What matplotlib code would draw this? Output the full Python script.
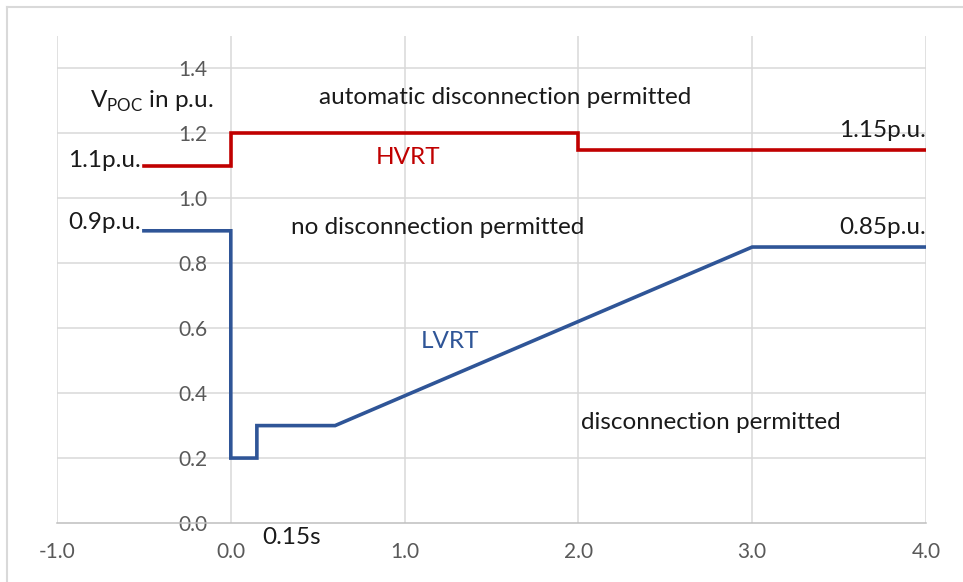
import matplotlib.pyplot as plt
from matplotlib.lines import Line2D

plt.rcParams['font.family'] = ['Lato', 'DejaVu Sans']
plt.rcParams['axes.unicode_minus'] = False

# LVRT / HVRT curves (time in s, voltage in p.u.)
lvrt_t = [-0.5, 0.0, 0.0, 0.15, 0.15, 0.6, 3.0, 4.0]
lvrt_v = [0.9, 0.9, 0.2, 0.2, 0.3, 0.3, 0.85, 0.85]
hvrt_t = [-0.5, 0.0, 0.0, 2.0, 2.0, 4.0]
hvrt_v = [1.1, 1.1, 1.2, 1.2, 1.15, 1.15]

x_ticks = [-1.0, 0.0, 1.0, 2.0, 3.0, 4.0]
y_ticks = [0.0, 0.2, 0.4, 0.6, 0.8, 1.0, 1.2, 1.4]

grid_col = '#d9d9d9'
tick_col = '#595959'
red = '#c00000'
blue = '#2f5597'

fig = plt.figure(figsize=(9.63, 5.82), dpi=100)
W, H = 963, 582
ax = fig.add_axes([57 / W, (H - 523) / H, (926 - 57) / W, (523 - 36) / H])

ax.set_xlim(-1, 4)
ax.set_ylim(0, 1.5)

# gridlines drawn by hand so the vertical ones go up to the top and horizontal stop at 1.4
for x in x_ticks:
    ax.axvline(x, color=grid_col, lw=1.1, zorder=0)
for y in y_ticks[1:]:
    ax.axhline(y, color=grid_col, lw=1.1, zorder=0)

for s in ['top', 'right']:
    ax.spines[s].set_visible(False)
ax.spines['bottom'].set_color('#bfbfbf')
ax.spines['bottom'].set_linewidth(1.1)
ax.spines['left'].set_position(('data', 0))
ax.spines['left'].set_visible(False)

ax.set_xticks(x_ticks)
ax.set_xticklabels([f'{v:.1f}' for v in x_ticks])
ax.set_yticks(y_ticks)
ax.set_yticklabels([f'{v:.1f}' for v in y_ticks])
ax.tick_params(axis='x', length=0, pad=14, labelsize=15, labelcolor=tick_col)
ax.tick_params(axis='y', length=0, pad=17, labelsize=15, labelcolor=tick_col)

ax.plot(hvrt_t, hvrt_v, color=red, lw=2.6, solid_joinstyle='miter')
ax.plot(lvrt_t, lvrt_v, color=blue, lw=2.6, solid_joinstyle='miter')

txt = dict(fontsize=17.5, color='#1a1a1a')
ax.text(-0.1, 1.30, r'V$_{\mathregular{POC}}$ in p.u.', ha='right', va='center', **txt)
ax.text(1.58, 1.31, 'automatic disconnection permitted', ha='center', va='center', **txt)
ax.text(1.02, 1.125, 'HVRT', ha='center', va='center', fontsize=17.5, color=red)
ax.text(-0.52, 1.115, '1.1p.u.', ha='right', va='center', **txt)
ax.text(-0.52, 0.925, '0.9p.u.', ha='right', va='center', **txt)
ax.text(1.19, 0.91, 'no disconnection permitted', ha='center', va='center', **txt)
ax.text(4.0, 1.21, '1.15p.u.', ha='right', va='center', **txt)
ax.text(4.0, 0.91, '0.85p.u.', ha='right', va='center', **txt)
ax.text(1.26, 0.56, 'LVRT', ha='center', va='center', fontsize=17.5, color=blue)
ax.text(2.76, 0.31, 'disconnection permitted', ha='center', va='center', **txt)
ax.text(0.35, -0.045, '0.15s', ha='center', va='center', clip_on=False, **txt)

# outer chart frame
fig.add_artist(Line2D([7 / W, 7 / W], [0, 1 - 7 / H], color='#d9d9d9', lw=1.5))
fig.add_artist(Line2D([7 / W, 1], [1 - 7 / H, 1 - 7 / H], color='#d9d9d9', lw=1.5))

fig.savefig('out.png', dpi=100)
